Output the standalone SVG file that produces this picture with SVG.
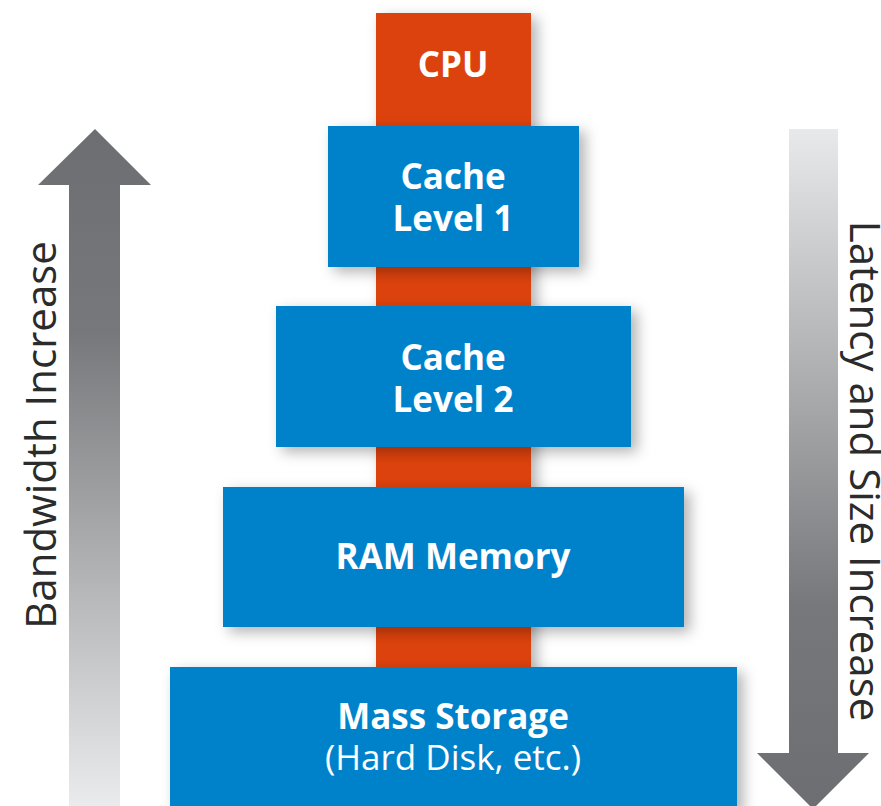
<svg xmlns="http://www.w3.org/2000/svg" width="881" height="806" viewBox="0 0 881 806">
<style>
.blk{fill:#0182cb}
.cpu{fill:#dc4308}
.t{font-family:"Open Sans","Liberation Sans",sans-serif;fill:#fff;text-anchor:middle;font-size:35px}
.b{font-weight:bold}
.side{font-family:"Open Sans","Liberation Sans",sans-serif;fill:#2b2b2b;font-size:42px;text-anchor:middle}
</style>
<defs>
<linearGradient id="gUp" x1="0" y1="0" x2="0" y2="1">
<stop offset="0" stop-color="#6d6e71"/>
<stop offset="0.3" stop-color="#77787b"/>
<stop offset="1" stop-color="#eaebec"/>
</linearGradient>
<linearGradient id="gDown" x1="0" y1="0" x2="0" y2="1">
<stop offset="0" stop-color="#e8e9ea"/>
<stop offset="0.7" stop-color="#77787b"/>
<stop offset="1" stop-color="#6d6e71"/>
</linearGradient>
<filter id="sh" x="-10%" y="-10%" width="125%" height="130%">
<feDropShadow dx="6" dy="5" stdDeviation="7" flood-color="#000" flood-opacity="0.3"/>
</filter>
</defs>
<rect width="881" height="806" fill="#fff"/>
<g id="arrow-bandwidth">
<path d="M95 129 L151 185 L120 185 L120 806 L69 806 L69 185 L38 185 Z" fill="url(#gUp)"/>
<text class="side" transform="translate(56,435) rotate(-90)">Bandwidth Increase</text>
</g>
<g id="arrow-latency">
<path d="M789 129 L838 129 L838 753 L869 753 L813 809 L757 753 L789 753 Z" fill="url(#gDown)"/>
<text class="side" transform="translate(850,471) rotate(90)">Latency and Size Increase</text>
</g>
<g id="cpu">
<rect class="cpu" x="376" y="13" width="155" height="793" filter="url(#sh)"/>
<text class="t b" x="453" y="77">CPU</text>
</g>
<g id="cache1">
<rect class="blk" x="328" y="126" width="251" height="141" filter="url(#sh)"/>
<text class="t b" x="453" y="189">Cache</text>
<text class="t b" x="453" y="231">Level 1</text>
</g>
<g id="cache2">
<rect class="blk" x="276" y="306" width="355" height="141" filter="url(#sh)"/>
<text class="t b" x="453" y="370">Cache</text>
<text class="t b" x="453" y="412">Level 2</text>
</g>
<g id="ram">
<rect class="blk" x="223" y="487" width="461" height="140" filter="url(#sh)"/>
<text class="t b" x="453" y="569">RAM Memory</text>
</g>
<g id="storage">
<rect class="blk" x="170" y="667" width="567" height="145" filter="url(#sh)"/>
<text class="t b" x="453" y="729">Mass Storage</text>
<text class="t" x="453" y="770">(Hard Disk, etc.)</text>
</g>
<g id="connectors"/>
</svg>
